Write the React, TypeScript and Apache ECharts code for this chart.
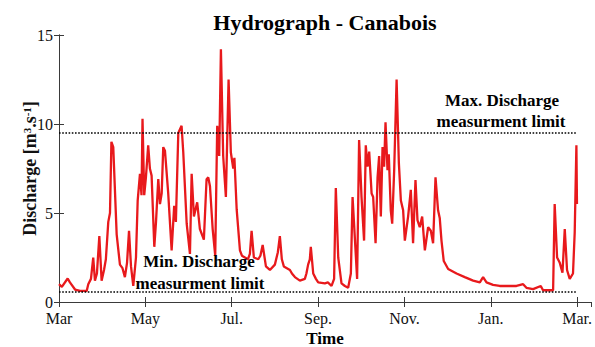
import React, { useEffect, useRef } from "react";
import * as echarts from "echarts";

// Day index counted from 1 March
const days = [
  0, 2, 6.1, 7.7, 11.3, 14.8, 19.5, 20.6, 22.5, 24.1, 25.3, 26.7, 28.4, 30, 31.7, 33, 34.7, 35.9, 36.9, 38.2,
  40.6, 42.9, 44.7, 46.4, 47.9, 49.3, 50.7, 52.3, 54.2, 55.4, 57, 58.1, 58.8, 60, 61.2, 62.8, 64, 65.2, 67.1,
  68.3, 69.9, 71.1, 72.3, 73.4, 74.6, 76.9, 79.3, 81.1, 82.3, 84, 86.3, 87.5, 89.9, 92.2, 93.4, 95, 97.3, 99.2,
  102, 103.9, 105.1, 106.3, 108.2, 110, 111.4, 112.8, 114, 115.6, 117.5, 119.4, 121, 122.7, 123.5, 125.1, 127.4,
  128.8, 130.9, 133, 134.4, 135.6, 137.2, 140.3, 141.8, 143.4, 145.7, 148.5, 152, 154.1, 155.5, 156.9, 158.3,
  162.6, 164, 166.1, 169.6, 173.1, 174.2, 175.4, 176.6, 177.3, 179, 180.9, 182.5, 187.2, 189.3, 191.9, 193.7,
  194.9, 196.6, 198.9, 201.3, 203.6, 205.5, 206.7, 208.3, 209.9, 211.3, 213, 214.8, 216, 217.2, 218.4, 220.1,
  221.2, 222.9, 224.3, 225.4, 226.6, 227.8, 228.9, 229.9, 231.3, 232.2, 233.6, 234.6, 236, 237.7, 239.3, 240.7,
  242.3, 243.5, 245.8, 247.7, 249.3, 251, 252.4, 254, 255.7, 257.6, 259.9, 261.8, 263.4, 265.1, 266.9, 268.1,
  269.3, 270.9, 274, 279.9, 285.7, 291.6, 296.3, 298.6, 301, 305.6, 310.3, 315.1, 322.1, 326.8, 329.1, 333.8,
  339.2, 340.8, 347.9, 349, 350.7, 352.6, 354.5, 356.1, 357.7, 359.6, 361.9, 363.1, 364.3, 364.7,
];

const discharge = [
  1.0, 0.85, 1.32, 1.1, 0.7, 0.62, 0.62, 1.0, 1.3, 2.5, 1.2, 1.6, 3.7, 1.2, 1.8, 2.4, 4.5, 5.0, 9.0, 8.7,
  3.8, 2.1, 1.9, 1.4, 2.2, 4.0, 2.0, 0.9, 2.5, 5.7, 7.2, 6.0, 10.3, 6.0, 7.0, 8.8, 7.5, 7.1, 3.1,
  4.5, 6.9, 5.5, 6.1, 8.7, 8.5, 6.1, 2.9, 5.4, 4.5, 9.5, 9.9, 8.4, 4.4, 2.7, 7.2, 4.8, 5.6, 4.1,
  3.5, 6.9, 7.0, 6.5, 4.1, 2.6, 9.9, 8.2, 14.2, 8.2, 5.9, 12.5, 8.4, 7.5, 8.1, 5.2, 2.9,
  2.6, 2.5, 2.4, 2.7, 4.0, 2.5, 2.4, 2.6, 3.2, 2.0, 1.8, 2.1, 2.8, 3.7, 2.4, 2.0,
  1.8, 1.6, 1.4, 1.2, 1.3, 1.6, 2.1, 2.4, 3.1, 1.6, 1.3, 1.1, 1.05, 1.1, 0.9, 1.3,
  6.4, 2.5, 1.05, 0.9, 0.8, 1.6, 5.9, 3.6, 1.3, 9.1, 5.9, 3.45, 8.8, 7.6, 8.45, 6.1,
  5.9, 3.3, 7.0, 8.2, 4.8, 8.7, 7.6, 10.1, 7.4, 8.3, 5.15, 4.4, 7.4, 12.5, 7.8, 5.7,
  5.15, 3.45, 4.8, 6.3, 3.3, 6.85, 4.6, 4.2, 4.8, 2.9, 4.2, 4.0, 3.3, 7.0, 5.15, 4.7,
  3.45, 2.3, 1.85, 1.6, 1.4, 1.2, 1.1, 1.4, 1.1, 0.96, 0.9, 0.9, 0.9, 1.0, 0.8, 0.72,
  0.9, 0.66, 0.66, 5.5, 2.5, 2.2, 1.65, 4.1, 1.8, 1.3, 1.6, 3.9, 8.8, 5.5,
];

const xTickLabels = ["Mar", "May", "Jul.", "Sep.", "Nov.", "Jan.", "Mar."];
const yTicks = [0, 5, 10, 15];
const maxLimit = 9.5;
const minLimit = 0.6;
const limitSpan = [0, 365];

const SERIF = "'Liberation Serif', 'Times New Roman', Times, serif";
const AXIS_COLOR = "#3a3a3a";
const TICK_STEP = 60.8;

export default function App() {
  const ref = useRef<HTMLDivElement>(null);

  useEffect(() => {
    if (!ref.current) return;
    const chart = echarts.init(ref.current, undefined, { renderer: "svg" });

    const xLabel = (v: number) => {
      const i = Math.round(v / TICK_STEP);
      if (Math.abs(v - i * TICK_STEP) > 0.5) return "";
      return xTickLabels[i] ?? "";
    };

    const baseX = {
      type: "value" as const,
      min: 0,
      max: 375,
      interval: TICK_STEP,
      axisLine: { show: true, lineStyle: { color: AXIS_COLOR, width: 1 } },
      axisTick: { show: true, inside: true, length: 5, lineStyle: { color: AXIS_COLOR } },
      splitLine: { show: false },
    };
    const baseY = {
      type: "value" as const,
      min: yTicks[0],
      max: yTicks[yTicks.length - 1],
      interval: 5,
      axisLine: { show: true, lineStyle: { color: AXIS_COLOR, width: 1 } },
      axisTick: { show: true, inside: true, length: 5, lineStyle: { color: AXIS_COLOR } },
      splitLine: { show: false },
    };

    const textStyleBold = (size: number) => ({
      fontFamily: SERIF,
      fontWeight: "bold",
      fontSize: size,
      fill: "#000",
    });

    chart.setOption({
      animation: false,
      backgroundColor: "#fff",
      grid: { left: 59, right: 3, top: 35, bottom: 45, containLabel: false },
      xAxis: [
        {
          ...baseX,
          position: "bottom",
          axisLabel: {
            show: true,
            formatter: xLabel,
            color: "#111",
            fontFamily: SERIF,
            fontSize: 16,
            margin: 8,
            showMaxLabel: false,
          },
        },
        { ...baseX, position: "top", axisLabel: { show: false } },
      ],
      yAxis: [
        {
          ...baseY,
          position: "left",
          axisLabel: { show: true, color: "#111", fontFamily: SERIF, fontSize: 16, margin: 6 },
          name: "{a|Discharge [m}{s|3}{a|.s}{s|-1}{a|]}",
          nameLocation: "middle",
          nameGap: 20,
          nameMoveOverlap: false,
          nameTextStyle: {
            fontFamily: SERIF,
            fontWeight: "bold",
            fontSize: 18,
            color: "#111",
            rich: {
              a: { fontFamily: SERIF, fontWeight: "bold", fontSize: 18, color: "#111" },
              s: { fontFamily: SERIF, fontWeight: "bold", fontSize: 11, color: "#111", verticalAlign: "top" },
            },
          },
        },
        { ...baseY, position: "right", axisLabel: { show: false } },
      ],
      series: [
        {
          type: "line",
          data: days.map((d, i) => [d, discharge[i]]),
          showSymbol: false,
          symbol: "none",
          lineStyle: { color: "#e8191c", width: 2.3 },
          z: 3,
          markLine: {
            silent: true,
            symbol: "none",
            label: { show: false },
            lineStyle: { color: "#000", type: "dotted", width: 1.6 },
            data: [
              [{ coord: [limitSpan[0], maxLimit] }, { coord: [limitSpan[1], maxLimit] }],
              [{ coord: [limitSpan[0], minLimit] }, { coord: [limitSpan[1], minLimit] }],
            ],
          },
        },
      ],
      graphic: [
        {
          type: "text",
          x: 325,
          y: 22,
          z: 10,
          style: { ...textStyleBold(22), text: "Hydrograph - Canabois", textAlign: "center", textVerticalAlign: "middle" },
        },
        {
          type: "text",
          x: 325,
          y: 338,
          z: 10,
          style: { ...textStyleBold(17), text: "Time", textAlign: "center", textVerticalAlign: "middle" },
        },
        {
          type: "text",
          x: 502,
          y: 100,
          z: 10,
          style: { ...textStyleBold(17), text: "Max. Discharge", textAlign: "center", textVerticalAlign: "middle" },
        },
        {
          type: "text",
          x: 501,
          y: 121.5,
          z: 10,
          style: { ...textStyleBold(17), text: "measurment limit", textAlign: "center", textVerticalAlign: "middle" },
        },
        {
          type: "text",
          x: 199,
          y: 261,
          z: 10,
          style: { ...textStyleBold(17), text: "Min. Discharge", textAlign: "center", textVerticalAlign: "middle" },
        },
        {
          type: "text",
          x: 200,
          y: 283.5,
          z: 10,
          style: { ...textStyleBold(17), text: "measurment limit", textAlign: "center", textVerticalAlign: "middle" },
        },
      ],
    });

    return () => chart.dispose();
  }, []);

  return (
    <div
      ref={ref}
      style={{ position: "fixed", left: 0, top: 0, width: 595, height: 347, background: "#fff" }}
    />
  );
}
